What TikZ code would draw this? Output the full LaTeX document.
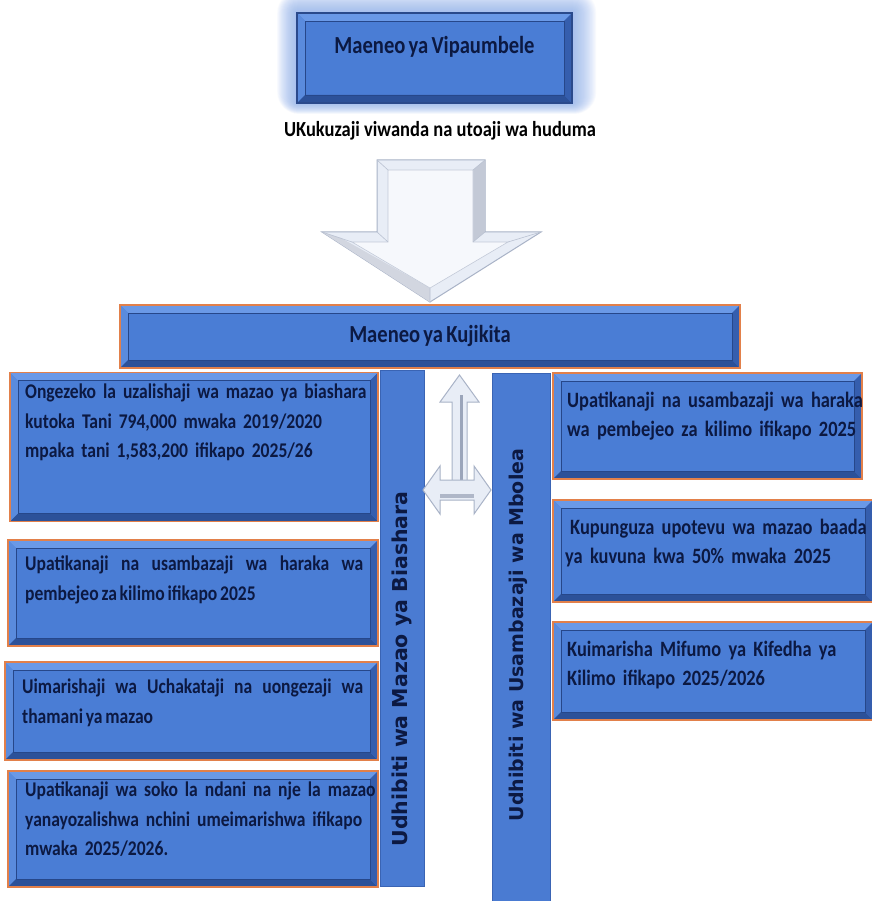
\documentclass[tikz,border=0pt]{standalone}
\usepackage{fontspec}
\setmainfont{Carlito}
\newfontfamily\condfont{Carlito}[FakeStretch=0.84, WordSpace=0.7]
\newfontfamily\capfont{Carlito}[FakeStretch=0.86]
\newfontfamily\barfont{DejaVu Sans}
\usetikzlibrary{calc}

\definecolor{cardface}{HTML}{4A7DD5}
\definecolor{bevtop}{HTML}{6A99E7}
\definecolor{bevleft}{HTML}{5A8BDD}
\definecolor{bevbottom}{HTML}{2C5199}
\definecolor{bevright}{HTML}{355EAE}
\definecolor{innerline}{HTML}{26478A}
\definecolor{edgeorange}{HTML}{E2804A}
\definecolor{topedge}{HTML}{2A4A8C}
\definecolor{inkblue}{HTML}{0C1942}
\definecolor{glowblue}{HTML}{8DB0EE}
\definecolor{barface}{HTML}{4A7BD2}
\definecolor{baredge}{HTML}{3A64B4}
\definecolor{arrowface}{HTML}{E8EDF6}
\definecolor{arrowinner}{HTML}{F6F8FC}
\definecolor{arrowedge}{HTML}{A9B3C7}
\definecolor{arrowshade}{HTML}{9BA5BA}

\tikzset{
  card/.style={rectangle, inner sep=0pt, draw=edgeorange, line width=1.3pt, fill=cardface,
    path picture={
      \path (path picture bounding box.north west) coordinate (bvA)
            (path picture bounding box.north east) coordinate (bvB)
            (path picture bounding box.south east) coordinate (bvC)
            (path picture bounding box.south west) coordinate (bvD);
      \fill[bevtop] (bvA) -- (bvB) -- ([xshift=-8pt,yshift=-8pt]bvB) -- ([xshift=8pt,yshift=-8pt]bvA) -- cycle;
      \fill[bevleft] (bvA) -- ([xshift=8pt,yshift=-8pt]bvA) -- ([xshift=8pt,yshift=8pt]bvD) -- (bvD) -- cycle;
      \fill[bevbottom] (bvD) -- (bvC) -- ([xshift=-8pt,yshift=8pt]bvC) -- ([xshift=8pt,yshift=8pt]bvD) -- cycle;
      \fill[bevright] (bvB) -- (bvC) -- ([xshift=-8pt,yshift=8pt]bvC) -- ([xshift=-8pt,yshift=-8pt]bvB) -- cycle;
      \draw[innerline, line width=0.7pt] ([xshift=8pt,yshift=-8pt]bvA) rectangle ([xshift=-8pt,yshift=8pt]bvC);
    }},
  cardtext/.style={anchor=north west, inner sep=0pt, text=inkblue,
    font=\condfont\bfseries\fontsize{21.9}{29}\selectfont},
  cardtextleft/.style={cardtext, font=\condfont\bfseries\fontsize{20.9}{29.5}\selectfont},
  heading/.style={inner sep=0pt, text=inkblue, font=\condfont\bfseries\fontsize{24.5}{29}\selectfont},
  subheading/.style={inner sep=0pt, text=black, font=\capfont\bfseries\fontsize{21.5}{25}\selectfont},
  bar/.style={rectangle, inner sep=0pt, draw=baredge, line width=0.8pt, fill=barface},
  bartext/.style={inner sep=0pt, text=inkblue, rotate=90},
  blockarrow/.style={fill=arrowface, draw=arrowedge, line width=1pt, line join=miter},
  blockinner/.style={fill=arrowinner, draw=arrowedge!70, line width=0.6pt},
}

\begin{document}
\hyphenpenalty=10000
\begin{tikzpicture}[x=1pt,y=-1pt]
\useasboundingbox[fill=white] (0,0) rectangle (871,901);

% soft halo behind the priority box
\foreach \g in {1,...,22}{
  \fill[glowblue, opacity=0.055, rounded corners=\g pt]
    (297-\g*0.9,13-\g) rectangle (572+\g*1.1,103+\g*0.5);
}

% priority box and caption
\node[card, draw=topedge, minimum width=275pt, minimum height=90pt] (prio) at (434.5,58) {};
\node[heading] (priotxt) at (434.5,47) {Maeneo ya Vipaumbele};
\node[subheading] (sub) at (440,131) {UKukuzaji viwanda na utoaji wa huduma};

% large downward block arrow
\draw[blockarrow] (377,160) -- (485,160) -- (485,232) -- (541,232) -- (430,302)
  -- (322,232) -- (377,232) -- cycle;
\fill[arrowshade!60] (473,170) -- (485,160) -- (485,232) -- (473,242) -- cycle;
\fill[arrowshade!45] (341,238) -- (322,232) -- (430,302) -- (430,288) -- cycle;
\draw[blockinner] (388,170) -- (473,170) -- (473,242) -- (508,242) -- (430,288)
  -- (352,242) -- (388,242) -- cycle;
\draw[arrowedge!80, line width=0.6pt]
  (377,160) -- (388,170) (485,160) -- (473,170) (485,232) -- (473,242)
  (541,232) -- (508,242) (430,302) -- (430,288) (322,232) -- (352,242)
  (377,232) -- (388,242);

% focus bar
\node[card, minimum width=620pt, minimum height=63pt] (focus) at (430,336.5) {};
\node[heading] (focustxt) at ([yshift=1pt]focus.center) {Maeneo ya Kujikita};

% vertical category bars
\node[bar, minimum width=44pt, minimum height=516pt] (barL) at (402.5,628) {};
\node[bar, minimum width=58pt, minimum height=530pt] (barR) at (521,638) {};
\node[bartext, font=\barfont\bfseries\fontsize{20.5}{24}\selectfont] (barLtxt) at (402,669)
  {Udhibiti wa Mazao ya Biashara};
\node[bartext, font=\barfont\bfseries\fontsize{19}{23}\selectfont] (barRtxt) at (518,635)
  {Udhibiti wa Usambazaji wa Mbolea};

% small double block arrow between the bars
\draw[blockarrow] (452,485) -- (452,402) -- (440,402) -- (459.5,375) -- (479,402)
  -- (467,402) -- (467,485) -- cycle;
\fill[arrowshade] (460,395) -- (463,395) -- (463,482) -- (460,482) -- cycle;
\draw[blockarrow] (423,490) -- (440,466) -- (440,480) -- (474,480) -- (474,466)
  -- (491,490) -- (474,514) -- (474,500) -- (440,500) -- (440,514) -- cycle;
\fill[arrowshade!80] (440,494) -- (474,494) -- (474,498) -- (440,498) -- cycle;

% left column of cards
\node[card, minimum width=368pt, minimum height=149pt] (L1) at (194,447) {};
\node[card, minimum width=370pt, minimum height=106pt] (L2) at (193,593) {};
\node[card, minimum width=373pt, minimum height=98pt] (L3) at (191.5,711) {};
\node[card, minimum width=370pt, minimum height=116pt] (L4) at (193,829) {};

\node[cardtextleft, text width=420pt, align=left] (L1txt) at (25,384)
  {Ongezeko la uzalishaji wa mazao ya biashara\\kutoka Tani 794,000 mwaka 2019/2020\\mpaka tani 1,583,200 ifikapo 2025/26};
\node[cardtextleft, text width=338pt, align=justify] (L2txt) at (25,556)
  {Upatikanaji na usambazaji wa haraka wa\linebreak pembejeo za kilimo ifikapo 2025};
\node[cardtextleft, text width=341pt, align=justify] (L3txt) at (22,679)
  {Uimarishaji wa Uchakataji na uongezaji wa\linebreak thamani ya mazao};
\node[cardtextleft, text width=420pt, align=left] (L4txt) at (25,782)
  {Upatikanaji wa soko la ndani na nje la mazao\\yanayozalishwa nchini umeimarishwa ifikapo\\mwaka 2025/2026.};

% right column of cards
\node[card, minimum width=309pt, minimum height=106pt] (R1) at (707.5,426) {};
\node[card, minimum width=320pt, minimum height=102pt] (R2) at (713,551) {};
\node[card, minimum width=320pt, minimum height=98pt] (R3) at (713,671) {};

\node[cardtext, text width=380pt, align=left] (R1txt) at (567,392)
  {Upatikanaji na usambazaji wa haraka\\wa pembejeo za kilimo ifikapo 2025};
\node[cardtext, text width=380pt, align=left] (R2txt) at (565,519)
  {\hspace{5pt}Kupunguza upotevu wa mazao baada\\ya kuvuna kwa 50\% mwaka 2025};
\node[cardtext, text width=380pt, align=left] (R3txt) at (567,641)
  {Kuimarisha Mifumo ya Kifedha ya\\Kilimo ifikapo 2025/2026};
\end{tikzpicture}
\end{document}
